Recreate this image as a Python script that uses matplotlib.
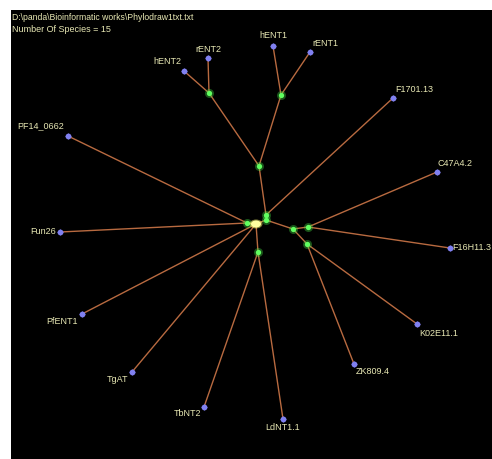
import matplotlib
matplotlib.use("Agg")
import matplotlib.pyplot as plt
from matplotlib.patches import Ellipse

# ---------------- data ----------------
title_line1 = "D:\\panda\\Bioinformatic works\\Phylodraw1txt.txt"
title_line2 = "Number Of Species = 15"

leaf_names = ["hENT2", "rENT2", "hENT1", "rENT1", "F1701.13", "C47A4.2",
              "F16H11.3", "K02E11.1", "ZK809.4", "LdNT1.1", "TbNT2", "TgAT",
              "PfENT1", "Fun26", "PF14_0662"]
leaf_x = [184, 208, 273, 310, 393, 437, 450, 417, 354, 283, 204, 132, 82, 60, 68]
leaf_y = [71, 58, 46, 52, 98, 172, 248, 324, 364, 419, 407, 372, 314, 232, 136]

node_names = ["root", "G1", "G2a", "G2b", "G3", "G4", "G5", "G6", "G7", "G8", "G9"]
node_x = [256, 247, 266, 266, 293, 308, 307, 259, 209, 281, 258]
node_y = [224, 223, 215, 220, 229, 227, 244, 166, 93, 95, 252]

edge_parent = ["root", "root", "G2b", "G2a", "G6", "G6", "G7", "G7", "G8", "G8",
               "G2a", "G2b", "G3", "G3", "G4", "G4", "G5", "G5", "root", "G9",
               "G9", "G1", "G1", "root", "root"]
edge_child = ["G1", "G2b", "G2a", "G6", "G7", "G8", "hENT2", "rENT2", "hENT1",
              "rENT1", "F1701.13", "G3", "G4", "G5", "C47A4.2", "F16H11.3",
              "K02E11.1", "ZK809.4", "G9", "TbNT2", "LdNT1.1", "PF14_0662",
              "Fun26", "PfENT1", "TgAT"]

# ---------------- style ----------------
label_style = {
    "hENT2": (-3, -9, "right"), "rENT2": (0, -9, "center"),
    "hENT1": (0, -10, "center"), "rENT1": (2, -9, "left"),
    "F1701.13": (2, -9, "left"), "C47A4.2": (1, -9, "left"),
    "F16H11.3": (2, 0, "left"), "K02E11.1": (2, 9, "left"),
    "ZK809.4": (2, 8, "left"), "LdNT1.1": (0, 8, "center"),
    "TbNT2": (-3, 7, "right"), "TgAT": (-4, 8, "right"),
    "PfENT1": (-4, 8, "right"), "Fun26": (-4, 0, "right"),
    "PF14_0662": (-4, -10, "right"),
}
line_color = "#b86a40"
leaf_color = "#8080f0"
node_color = "#48f048"
text_color = "#e8e8b4"
font = "Liberation Sans"

W, H = 492, 459
fig = plt.figure(figsize=(W / 100, H / 100), dpi=100, facecolor="white")
left, top = 11, 10
ax = fig.add_axes([left / W, 0, (W - left) / W, (H - top) / H])
ax.set_facecolor("black")
ax.set_xlim(left, W)
ax.set_ylim(H, top)
ax.axis("off")
ax.add_patch(plt.Rectangle((0, 0), 1, 1, transform=ax.transAxes,
                           facecolor="black", edgecolor="none", zorder=0))

pos = {}
for n, x, y in zip(leaf_names, leaf_x, leaf_y):
    pos[n] = (x, y)
for n, x, y in zip(node_names, node_x, node_y):
    pos[n] = (x, y)

for p, c in zip(edge_parent, edge_child):
    (x0, y0), (x1, y1) = pos[p], pos[c]
    ax.plot([x0, x1], [y0, y1], color=line_color, lw=1.0, zorder=2,
            solid_capstyle="round")

# leaves
ax.plot(leaf_x, leaf_y, "o", color=leaf_color, ms=4.2, mec="none", zorder=4)
ax.plot(leaf_x, leaf_y, "D", color=leaf_color, ms=3.2, mec="none", zorder=4)

# internal nodes (skip root)
gx, gy = node_x[1:], node_y[1:]
ax.plot(gx, gy, "o", color=node_color, ms=6.5, mec="none", alpha=0.35, zorder=4)
ax.plot(gx, gy, "o", color="#60ff60", ms=3.8, mec="none", zorder=5)

# root
ax.add_patch(Ellipse((node_x[0], node_y[0]), 13, 9, facecolor="#ffff70",
                     edgecolor="none", alpha=0.5, zorder=5))
ax.add_patch(Ellipse((node_x[0], node_y[0]), 10, 7, facecolor="#ffffa0",
                     edgecolor="none", zorder=6))

for n, x, y in zip(leaf_names, leaf_x, leaf_y):
    dx, dy, ha = label_style[n]
    ax.text(x + dx, y + dy, n, color=text_color, fontsize=6.5, family=font,
            ha=ha, va="center", zorder=7)

ax.text(12, 18, title_line1, color=text_color, fontsize=6.2, family=font,
        ha="left", va="center", zorder=7)
ax.text(12, 29, title_line2, color=text_color, fontsize=6.5, family=font,
        ha="left", va="center", zorder=7)

fig.savefig("out.png", dpi=100, facecolor="white")
